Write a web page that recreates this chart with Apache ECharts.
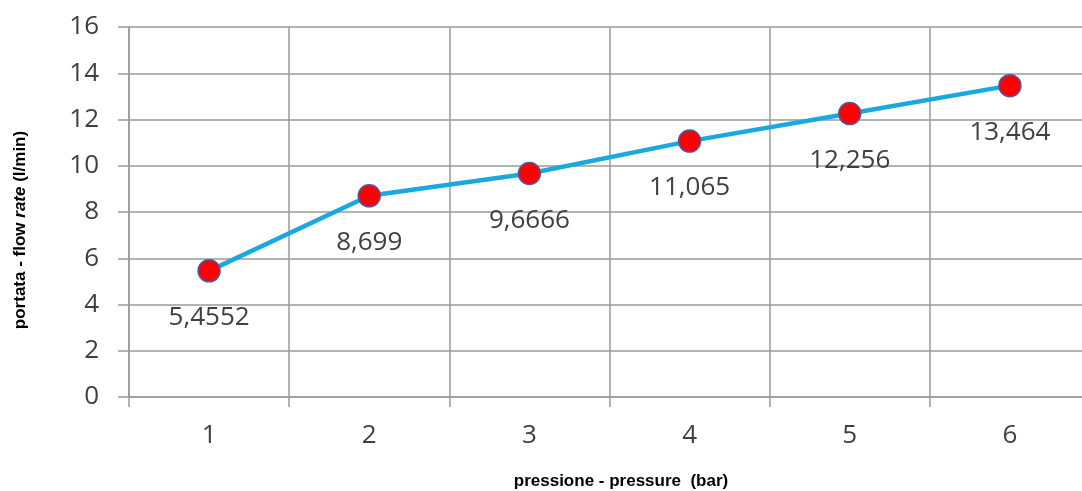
<!DOCTYPE html>
<html>
<head>
<meta charset="utf-8">
<script src="https://cdn.jsdelivr.net/npm/echarts@6/dist/echarts.min.js"></script>
<style>
html,body{margin:0;padding:0;background:#fff;overflow:hidden;width:1082px;height:491px;}
#c{width:1092px;height:491px;}
</style>
</head>
<body>
<div id="c"></div>
<script>
const categories = ['1', '2', '3', '4', '5', '6'];
const flowRate = [5.4552, 8.699, 9.6666, 11.065, 12.256, 13.464];
const flowLabels = ['5,4552', '8,699', '9,6666', '11,065', '12,256', '13,464'];
const yTicks = { min: 0, max: 16, interval: 2 };

const chart = echarts.init(document.getElementById('c'));
const gridColor = '#9a9a9a';
const textColor = '#404040';
const labelFont = 'Open Sans';

chart.setOption({
  animation: false,
  backgroundColor: '#fff',
  grid: { left: 129, top: 27, right: 2, bottom: 94, containLabel: false },
  xAxis: {
    type: 'category',
    data: categories,
    boundaryGap: true,
    axisLine: { show: true, lineStyle: { color: gridColor, width: 1.5 } },
    axisTick: { show: true, alignWithLabel: false, length: 10, lineStyle: { color: gridColor, width: 1.5 } },
    splitLine: { show: true, lineStyle: { color: gridColor, width: 1.5 } },
    axisLabel: { color: textColor, fontFamily: labelFont, fontSize: 26, margin: 26 }
  },
  yAxis: {
    type: 'value',
    min: yTicks.min,
    max: yTicks.max,
    interval: yTicks.interval,
    axisLine: { show: true, lineStyle: { color: gridColor, width: 1.5 } },
    axisTick: { show: true, length: 11, lineStyle: { color: gridColor, width: 1.5 } },
    splitLine: { show: true, lineStyle: { color: gridColor, width: 1.5 } },
    axisLabel: { color: textColor, fontFamily: labelFont, fontSize: 26, margin: 30 }
  },
  graphic: [
    {
      type: 'text',
      x: 20, y: 230,
      rotation: Math.PI / 2,
      style: {
        text: '{b|portata - flow }{i|rate}{b| (l/min)}',
        align: 'center',
        verticalAlign: 'middle',
        rich: {
          b: { fontFamily: 'Liberation Sans', fontWeight: 'bold', fontSize: 17, fill: '#000' },
          i: { fontFamily: 'Liberation Sans', fontWeight: 'bold', fontStyle: 'italic', fontSize: 17, fill: '#000' }
        }
      }
    },
    {
      type: 'text',
      x: 621, y: 481,
      style: {
        text: 'pressione - pressure  (bar)',
        align: 'center',
        verticalAlign: 'middle',
        fontFamily: 'Liberation Sans',
        fontWeight: 'bold',
        fontSize: 17,
        fill: '#000'
      }
    }
  ],
  series: [{
    type: 'line',
    data: flowRate,
    symbol: 'circle',
    symbolSize: 22,
    lineStyle: { color: '#1ba8e0', width: 4.5 },
    itemStyle: { color: '#ff0000', borderColor: '#4b5aa0', borderWidth: 1.5 },
    label: {
      show: true,
      position: 'bottom',
      distance: 22,
      color: textColor,
      fontFamily: labelFont,
      fontSize: 26,
      formatter: p => flowLabels[p.dataIndex]
    },
    z: 5
  }]
});
</script>
</body>
</html>
